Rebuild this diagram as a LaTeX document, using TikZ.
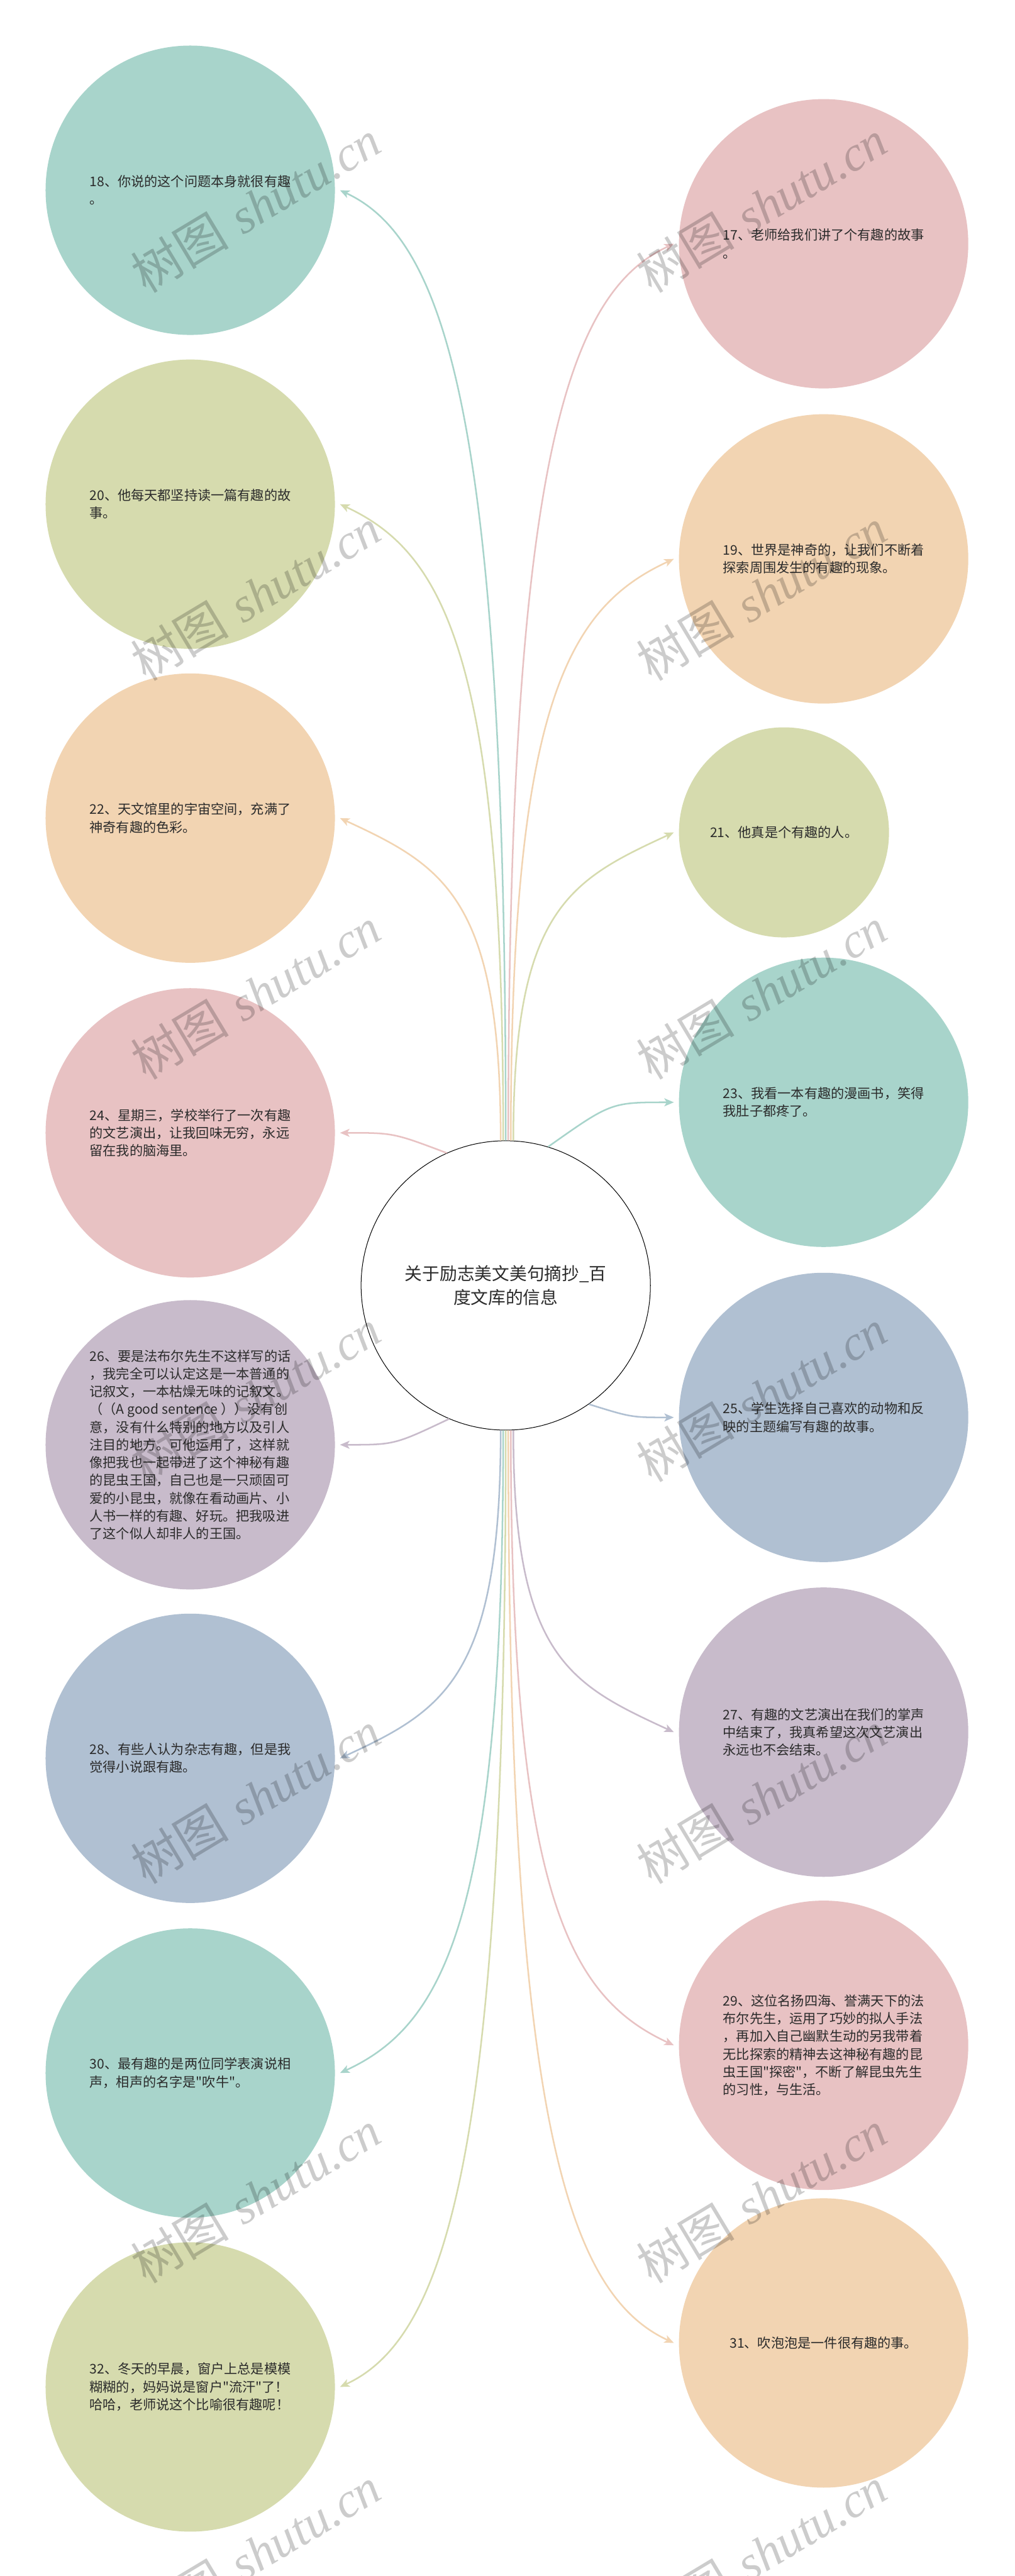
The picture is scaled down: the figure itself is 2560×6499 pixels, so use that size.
\documentclass[tikz,border=0pt]{standalone}
\usepackage{fontspec}
\newfontfamily\cjk{Noto Sans CJK SC}
\newfontfamily\wmserif{Liberation Serif}
\usetikzlibrary{arrows.meta,calc}
\definecolor{cteal}{HTML}{A8D4CB}
\definecolor{colive}{HTML}{D6DBAE}
\definecolor{cpeach}{HTML}{F2D4B2}
\definecolor{cpink}{HTML}{E8C2C3}
\definecolor{cpurple}{HTML}{C8BBCB}
\definecolor{cblue}{HTML}{B0C0D2}
\definecolor{txt}{HTML}{2B2B2B}
% long connectors: color, start angle on hub, target point
\newcommand\lnk[3]{\draw[conn,#1] let \p1=(c.#2), \p2=(#3), \n1={\x1-\x2}, \n2={\y1-\y2} in
  (\p1) .. controls (\x1,{\y2+0.25*\n2}) and ({\x2+0.65*\n1},{\y2+0.3*abs(\n1)*sign(\n2)}) .. (\p2);}
% short side connectors
\newcommand\lnkS[3]{\draw[conn,#1] let \p1=(c.#2), \p2=(#3) in (\p1) .. controls ({0.5*\x1+0.5*\x2},\y2) .. (\p2);}
\begin{document}
\begin{tikzpicture}[x=0.25pt,y=-0.25pt,
  bub/.style={circle,minimum size=182.5pt,inner sep=0pt,align=left,text=txt,
    font=\cjk\fontsize{8.4}{11.2}\selectfont},
  smallbub/.style={bub,minimum size=132.5pt},
  hub/.style={circle,minimum size=182.5pt,inner sep=0pt,align=center,text=txt,
    draw=black,line width=0.4pt,fill=white,font=\cjk\fontsize{11}{15}\selectfont},
  conn/.style={line width=1pt,-{Stealth[length=6pt,width=5pt,inset=1.5pt]}},
  wm/.style={rotate=31,text=black,opacity=0.2,font=\fontsize{31}{31}\selectfont}]
\useasboundingbox (0,0) rectangle (2560,6499);
\fill[white] (0,0) rectangle (2560,6499);

% left column
\node[bub,fill=cteal]   (n18) at (480,480)  {18、你说的这个问题本身就很有趣\\。};
\node[bub,fill=colive]  (n20) at (480,1272) {20、他每天都坚持读一篇有趣的故\\事。};
\node[bub,fill=cpeach]  (n22) at (480,2064) {22、天文馆里的宇宙空间，充满了\\神奇有趣的色彩。};
\node[bub,fill=cpink]   (n24) at (480,2858) {24、星期三，学校举行了一次有趣\\的文艺演出，让我回味无穷，永远\\留在我的脑海里。};
\node[bub,fill=cpurple] (n26) at (480,3645) {26、要是法布尔先生不这样写的话\\，我完全可以认定这是一本普通的\\记叙文，一本枯燥无味的记叙文。\\（（A good sentence ））没有创\\意，没有什么特别的地方以及引人\\注目的地方。可他运用了，这样就\\像把我也一起带进了这个神秘有趣\\的昆虫王国，自己也是一只顽固可\\爱的小昆虫，就像在看动画片、小\\人书一样的有趣、好玩。把我吸进\\了这个似人却非人的王国。};
\node[bub,fill=cblue]   (n28) at (480,4436) {28、有些人认为杂志有趣，但是我\\觉得小说跟有趣。};
\node[bub,fill=cteal]   (n30) at (480,5230) {30、最有趣的是两位同学表演说相\\声，相声的名字是"吹牛"。};
\node[bub,fill=colive]  (n32) at (480,6022) {32、冬天的早晨，窗户上总是模模\\糊糊的，妈妈说是窗户"流汗"了！\\哈哈，老师说这个比喻很有趣呢！};

% right column
\node[bub,fill=cpink]   (n17) at (2078,615)  {17、老师给我们讲了个有趣的故事\\。};
\node[bub,fill=cpeach]  (n19) at (2078,1410) {19、世界是神奇的，让我们不断着\\探索周围发生的有趣的现象。};
\node[smallbub,fill=colive] (n21) at (1978,2100) {21、他真是个有趣的人。};
\node[bub,fill=cteal]   (n23) at (2078,2781) {23、我看一本有趣的漫画书，笑得\\我肚子都疼了。};
\node[bub,fill=cblue]   (n25) at (2078,3576) {25、学生选择自己喜欢的动物和反\\映的主题编写有趣的故事。};
\node[bub,fill=cpurple] (n27) at (2078,4370) {27、有趣的文艺演出在我们的掌声\\中结束了，我真希望这次文艺演出\\永远也不会结束。};
\node[bub,fill=cpink]   (n29) at (2078,5160) {29、这位名扬四海、誉满天下的法\\布尔先生，运用了巧妙的拟人手法\\，再加入自己幽默生动的另我带着\\无比探索的精神去这神秘有趣的昆\\虫王国"探密"，不断了解昆虫先生\\的习性，与生活。};
\node[bub,fill=cpeach]  (n31) at (2078,5911) {31、吹泡泡是一件很有趣的事。};

% hub
\node[hub] (c) at (1276,3243) {关于励志美文美句摘抄\_百\\度文库的信息};

% connectors
\lnk{cpeach}{92}{[xshift=3pt]n22.east}
\lnk{colive}{91}{[xshift=3pt]n20.east}
\lnk{cteal}{90}{[xshift=3pt]n18.east}
\lnk{cpink}{89}{[xshift=-3pt]n17.west}
\lnk{cpeach}{88}{[xshift=-3pt]n19.west}
\lnk{colive}{87}{[xshift=-3pt]n21.west}
\lnkS{cpink}{114}{[xshift=3pt]n24.east}
\lnkS{cteal}{73}{[xshift=-3pt]n23.west}
\lnkS{cpurple}{247}{[xshift=3pt]n26.east}
\lnkS{cblue}{305}{[xshift=-3pt]n25.west}
\lnk{cblue}{268}{[xshift=3pt]n28.east}
\lnk{cteal}{269}{[xshift=3pt]n30.east}
\lnk{colive}{270}{[xshift=3pt]n32.east}
\lnk{cpeach}{271}{[xshift=-3pt]n31.west}
\lnk{cpink}{272}{[xshift=-3pt]n29.west}
\lnk{cpurple}{273}{[xshift=-3pt]n27.west}

% watermark
\foreach \i/\yy in {1/520,2/1500,3/2506,4/3521,5/4535,6/5542,7/6441}{
  \node[wm] (wl\i) at (645,\yy) {{\cjk 树图} {\wmserif\itshape shutu.cn}};
  \node[wm] (wr\i) at (1922,\yy) {{\cjk 树图} {\wmserif\itshape shutu.cn}};
}
\end{tikzpicture}
\end{document}
